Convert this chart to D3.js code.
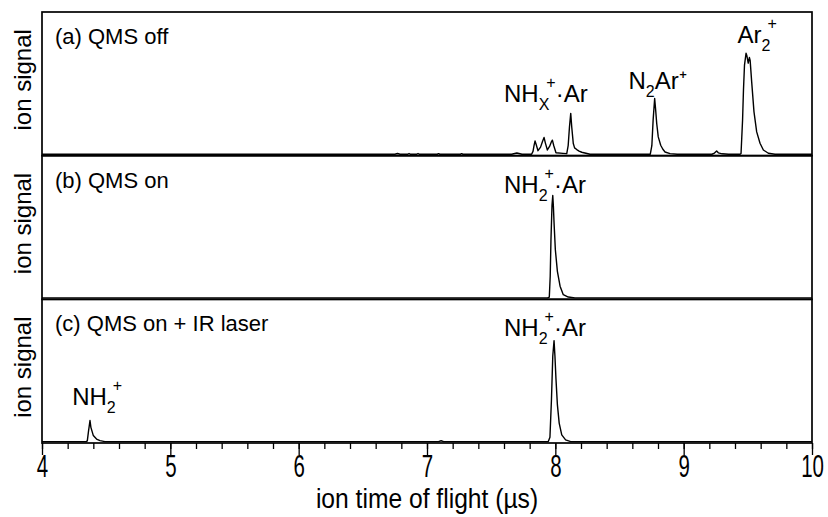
<!DOCTYPE html>
<html>
<head>
<meta charset="utf-8">
<script src="https://cdn.jsdelivr.net/npm/d3@7"></script>
<style>
  body { margin: 0; background: #fff; }
  svg text { font-family: "Liberation Sans", Arial, sans-serif; fill: #000; }
</style>
</head>
<body>
<div id="chart"></div>
<script>
// figure size and panel placement
const W = 828, H = 517;
const margin = { top: 12, right: 16, bottom: 74, left: 42 };
const plotW = W - margin.left - margin.right;
const panelH = (H - margin.top - margin.bottom) / 3;

// axis ticks
const majorTicks = [4, 5, 6, 7, 8, 9, 10];
const minorTicks = d3.range(4, 10.001, 0.2);

// panel titles
const panelNames = ["(a) QMS off", "(b) QMS on", "(c) QMS on + IR laser"];

// traces: [time of flight (us), ion signal (arb.)]
const traceA = [
  [4.00, 0], [6.75, 0], [6.77, 0.5], [6.79, 0], [6.85, 0], [6.86, 0.5], [6.87, 0],
  [6.92, 0], [6.93, 0.5], [6.94, 0], [7.08, 0], [7.09, 0.4], [7.10, 0],
  [7.26, 0], [7.27, 0.4], [7.28, 0], [7.66, 0], [7.70, 0.9], [7.74, 0],
  [7.815, 0], [7.826, 2], [7.834, 6], [7.842, 9.4], [7.850, 7], [7.865, 2.5],
  [7.885, 5], [7.900, 9], [7.912, 11.8], [7.922, 8], [7.938, 3], [7.955, 5.5],
  [7.968, 8.5], [7.977, 9.9], [7.988, 6], [8.005, 1.0], [8.06, 0.6], [8.089, 0.4],
  [8.100, 6], [8.110, 19], [8.120, 28.7], [8.128, 19], [8.140, 7.5], [8.150, 4.5],
  [8.167, 3.3], [8.185, 2.2], [8.206, 1.4], [8.27, 0],
  [8.74, 0], [8.752, 6], [8.762, 24], [8.774, 39.2], [8.781, 32], [8.790, 21.6],
  [8.802, 12.2], [8.821, 6.3], [8.838, 3.5], [8.855, 1.6], [8.894, 0.4], [8.95, 0],
  [9.22, 0], [9.24, 0.8], [9.257, 2.3], [9.27, 1.0], [9.30, 0.3], [9.35, 0],
  [9.44, 0], [9.447, 0.5], [9.459, 24.1], [9.466, 45.1], [9.474, 62.7], [9.486, 71],
  [9.492, 69.5], [9.503, 64], [9.512, 68], [9.518, 66], [9.530, 50.9], [9.548, 29.8],
  [9.569, 15.7], [9.595, 7.7], [9.621, 3.0], [9.660, 0.7], [9.712, 0], [10.00, 0]
];

const traceB = [
  [4.00, 0], [7.94, 0], [7.953, 0.5], [7.960, 15], [7.966, 41], [7.974, 65],
  [7.980, 72], [7.985, 64], [7.990, 52.8], [8.000, 34], [8.016, 18.7],
  [8.037, 8.2], [8.062, 2.3], [8.101, 0.6], [8.153, 0], [10.00, 0]
];

const traceC = [
  [4.00, 0], [4.345, 0], [4.353, 0.5], [4.362, 7], [4.374, 14.8], [4.381, 10],
  [4.400, 4.2], [4.425, 1.8], [4.452, 0.7], [4.49, 0],
  [7.09, 0], [7.11, 0.6], [7.13, 0],
  [7.945, 0], [7.958, 3], [7.970, 30], [7.980, 60], [7.990, 71], [7.997, 60],
  [8.005, 44], [8.016, 26], [8.030, 13], [8.050, 4.7], [8.08, 1.2], [8.12, 0],
  [10.00, 0]
];

const traces = [traceA, traceB, traceC];

// peak labels: [panel, x (us), y (signal), main, sub, sup, tail]
const peakLabels = [
  [0, 7.6, 37, "NH", "X", "+", "·Ar"],
  [0, 8.57, 46, "N", "2", "", "Ar⁺"],
  [0, 9.42, 78, "Ar", "2", "+", ""],
  [1, 7.6, 74, "NH", "2", "+", "·Ar"],
  [2, 7.6, 74, "NH", "2", "+", "·Ar"],
  [2, 4.235, 25.5, "NH", "2", "+", ""]
];

const svg = d3.select("#chart").append("svg")
  .attr("width", W)
  .attr("height", H);

const x = d3.scaleLinear().domain([4, 10]).range([margin.left, margin.left + plotW]);

const line = d3.line();

traces.forEach((trace, i) => {
  const top = margin.top + i * panelH;
  const y = d3.scaleLinear().domain([-1, 100]).range([top + panelH, top]);

  svg.append("path")
    .datum(trace)
    .attr("fill", "none")
    .attr("stroke", "#000")
    .attr("stroke-width", 1.4)
    .attr("stroke-linejoin", "round")
    .attr("d", line.x(d => x(d[0])).y(d => y(d[1])));

  // frame
  svg.append("rect")
    .attr("x", margin.left)
    .attr("y", top)
    .attr("width", plotW)
    .attr("height", panelH)
    .attr("fill", "none")
    .attr("stroke", "#000")
    .attr("stroke-width", 1.7);

  svg.append("text")
    .attr("x", margin.left + 13)
    .attr("y", top + 32)
    .style("font-size", "22px")
    .text(panelNames[i]);

  svg.append("text")
    .attr("transform", `translate(31,${top + panelH / 2 - 4}) rotate(-90)`)
    .attr("text-anchor", "middle")
    .style("font-size", "24px")
    .text("ion signal");

  // peak annotations
  peakLabels.filter(d => d[0] === i).forEach(d => {
    const t = svg.append("text")
      .attr("x", x(d[1]))
      .attr("y", y(d[2]))
      .style("font-size", "24px");
    t.append("tspan").text(d[3]);
    t.append("tspan").attr("dy", 8).style("font-size", "16px").text(d[4]);
    if (d[5]) {
      t.append("tspan").attr("dx", -3).attr("dy", -22).style("font-size", "16px").text(d[5]);
      t.append("tspan").attr("dy", 14).text(d[6]);
    } else {
      t.append("tspan").attr("dy", -8).text(d[6]);
    }
  });
});

// bottom axis of the last panel
const axisY = margin.top + 3 * panelH;

svg.append("g")
  .attr("transform", `translate(0,${axisY})`)
  .call(d3.axisBottom(x).tickValues(minorTicks).tickSize(6).tickFormat(""))
  .call(g => g.select(".domain").remove())
  .call(g => g.selectAll("line").attr("stroke-width", 1.3));

const xAxis = svg.append("g")
  .attr("transform", `translate(0,${axisY})`)
  .call(d3.axisBottom(x).tickValues(majorTicks).tickSize(12).tickPadding(0).tickFormat(d3.format("d")))
  .call(g => g.select(".domain").remove())
  .call(g => g.selectAll("line").attr("stroke-width", 1.3));

// condensed, tall tick labels like the original
xAxis.selectAll(".tick text")
  .style("font-size", "31px")
  .attr("transform", function () {
    return `translate(0,${+d3.select(this).attr("y")}) scale(0.66,1) translate(0,${-d3.select(this).attr("y")})`;
  });

svg.append("text")
  .attr("transform", `translate(${margin.left + plotW / 2},${H - 9}) scale(0.88,1)`)
  .attr("text-anchor", "middle")
  .style("font-size", "28px")
  .text("ion time of flight (µs)");
</script>
</body>
</html>
